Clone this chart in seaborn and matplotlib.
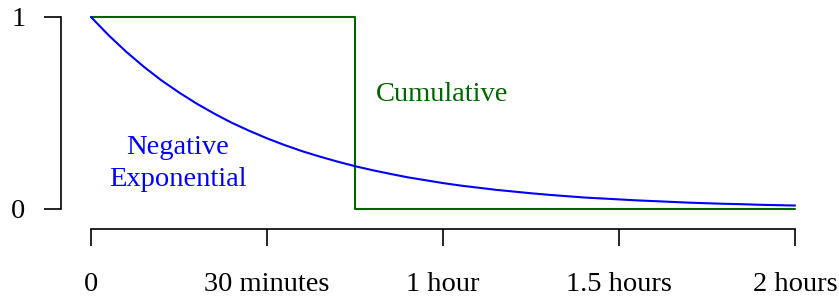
import matplotlib
matplotlib.use("Agg")
import matplotlib.pyplot as plt
import seaborn as sns
import pandas as pd

# values (minutes, fraction remaining)
EXP_MINUTES = [0, 3, 6, 9, 12, 15, 18, 21, 24, 27, 30, 33, 36, 39, 42, 45, 48,
               51, 54, 57, 60, 63, 66, 69, 72, 75, 78, 81, 84, 87, 90, 93, 96,
               99, 102, 105, 108, 111, 114, 117, 120]
EXP_VALUES = [1.000, 0.905, 0.819, 0.741, 0.670, 0.607, 0.549, 0.497, 0.449,
              0.407, 0.368, 0.333, 0.301, 0.273, 0.247, 0.223, 0.202, 0.183,
              0.165, 0.150, 0.135, 0.122, 0.111, 0.100, 0.091, 0.082, 0.074,
              0.067, 0.060, 0.055, 0.050, 0.045, 0.041, 0.037, 0.033, 0.030,
              0.027, 0.025, 0.022, 0.020, 0.018]
CUM_MINUTES = [0, 45, 120]
CUM_VALUES = [1, 0, 0]
X_TICKS = [0, 30, 60, 90, 120]
X_LABELS = ['0', '30 minutes', '1 hour', '1.5 hours', '2 hours']
Y_TICKS = [0, 1]
Y_LABELS = ['0', '1']

sns.set_style('ticks')
plt.rcParams['font.family'] = ['Liberation Serif', 'DejaVu Serif']

FS = 20.5
fig = plt.figure(figsize=(8.39, 2.99), dpi=100)
ax = fig.add_axes([91 / 839, 1 - 209 / 299, (795 - 91) / 839, (209 - 17) / 299])

exp_df = pd.DataFrame({'t': EXP_MINUTES, 'v': EXP_VALUES})
cum_df = pd.DataFrame({'t': CUM_MINUTES, 'v': CUM_VALUES})
sns.lineplot(data=cum_df, x='t', y='v', ax=ax, color='#006400', lw=1.5,
             drawstyle='steps-post', clip_on=False)
sns.lineplot(data=exp_df, x='t', y='v', ax=ax, color='#0000ff', lw=1.5,
             clip_on=False)

ax.text(14.8, 0.235, 'Negative\nExponential', color='#0000ff', fontsize=FS,
        ha='center', va='center', linespacing=1.38)
ax.text(48.6, 0.594, 'Cumulative', color='#006400', fontsize=FS,
        ha='left', va='center')

ax.set_xlim(0, 120)
ax.set_ylim(0, 1)
ax.set_xticks(X_TICKS)
ax.set_xticklabels(X_LABELS)
ax.set_yticks(Y_TICKS)
ax.set_yticklabels(Y_LABELS)
ax.set_xlabel('')
ax.set_ylabel('')

for s in ['top', 'right']:
    ax.spines[s].set_visible(False)
ax.spines['left'].set_position(('outward', 21.6))
ax.spines['bottom'].set_position(('outward', 14.4))
ax.spines['left'].set_bounds(0, 1)
ax.spines['bottom'].set_bounds(0, 120)
for s in ['left', 'bottom']:
    ax.spines[s].set_linewidth(1.2)
    ax.spines[s].set_color('black')
ax.tick_params(axis='both', length=12.2, width=1.2, color='black',
               labelsize=FS, labelcolor='black')
ax.tick_params(axis='y', pad=13.5)
ax.tick_params(axis='x', pad=19)
ax.set_facecolor('white')

fig.savefig('out.png', dpi=100, facecolor='white')
